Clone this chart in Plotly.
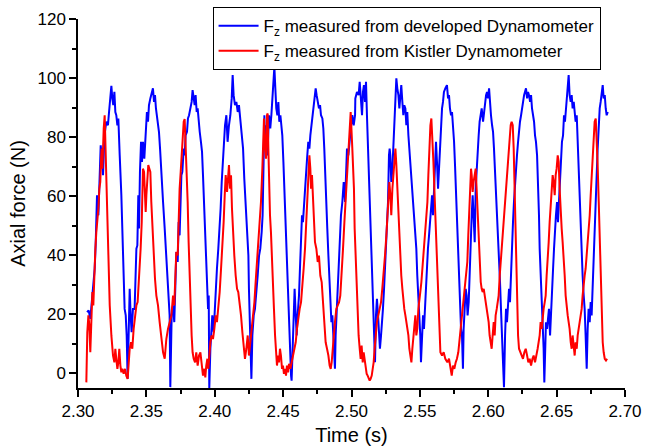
import plotly.graph_objects as go

blue_t = [
 2.3066, 2.3078, 2.3090, 2.3097, 2.3110, 2.3122, 2.3129, 2.3134, 2.3139, 2.3149,
 2.3158, 2.3166, 2.3173, 2.3183, 2.3190, 2.3197, 2.3207, 2.3219, 2.3227, 2.3236,
 2.3244, 2.3251, 2.3258, 2.3266, 2.3273, 2.3280, 2.3288, 2.3295, 2.3300, 2.3305,
 2.3317, 2.3329, 2.3336, 2.3341, 2.3349, 2.3356, 2.3363, 2.3370, 2.3378, 2.3385,
 2.3392, 2.3402, 2.3414, 2.3427, 2.3434, 2.3441, 2.3446, 2.3453, 2.3461, 2.3468,
 2.3475, 2.3485, 2.3495, 2.3504, 2.3512, 2.3519, 2.3529, 2.3539, 2.3548, 2.3556,
 2.3563, 2.3570, 2.3578, 2.3585, 2.3592, 2.3600, 2.3609, 2.3622, 2.3634, 2.3646,
 2.3658, 2.3670,
 2.3675, 2.3685, 2.3695, 2.3704, 2.3712, 2.3719, 2.3729, 2.3736, 2.3743, 2.3748,
 2.3756, 2.3763, 2.3773, 2.3780, 2.3787, 2.3797, 2.3804, 2.3812, 2.3821, 2.3831,
 2.3838, 2.3846, 2.3853, 2.3860, 2.3868, 2.3875, 2.3882, 2.3890, 2.3899, 2.3907,
 2.3914, 2.3921, 2.3929, 2.3936, 2.3943, 2.3951, 2.3956, 2.3960, 2.3968, 2.3975,
 2.3982, 2.3992, 2.3999, 2.4007, 2.4016, 2.4026, 2.4036, 2.4043, 2.4051, 2.4060,
 2.4068, 2.4075, 2.4085, 2.4094, 2.4104, 2.4114, 2.4124, 2.4131, 2.4138, 2.4148,
 2.4158, 2.4168, 2.4177, 2.4187, 2.4197, 2.4207, 2.4216, 2.4226, 2.4236, 2.4246,
 2.4250, 2.4255, 2.4263, 2.4268, 2.4275, 2.4285, 2.4294, 2.4304, 2.4314, 2.4324,
 2.4333, 2.4343,
 2.4350, 2.4358, 2.4363, 2.4367, 2.4375, 2.4382, 2.4389, 2.4397, 2.4406, 2.4414,
 2.4421, 2.4428, 2.4436, 2.4443, 2.4450, 2.4458, 2.4465, 2.4472, 2.4480, 2.4487,
 2.4494, 2.4502, 2.4509, 2.4516, 2.4523, 2.4531, 2.4538, 2.4545, 2.4553, 2.4558,
 2.4562, 2.4570, 2.4577, 2.4584, 2.4592, 2.4599, 2.4606, 2.4616, 2.4623, 2.4631,
 2.4638, 2.4645, 2.4653, 2.4660, 2.4667, 2.4675, 2.4684, 2.4692, 2.4699, 2.4709,
 2.4718, 2.4728, 2.4738, 2.4745, 2.4753, 2.4762, 2.4770, 2.4777, 2.4787, 2.4794,
 2.4801, 2.4809, 2.4816, 2.4823, 2.4831, 2.4838, 2.4845, 2.4853, 2.4860, 2.4867,
 2.4875, 2.4879, 2.4884, 2.4892, 2.4899, 2.4909, 2.4916, 2.4923, 2.4933, 2.4943,
 2.4953, 2.4960, 2.4967, 2.4977, 2.4987, 2.4997, 2.5006, 2.5016, 2.5026,
 2.5028, 2.5040, 2.5052, 2.5060, 2.5069, 2.5077, 2.5084, 2.5091, 2.5099, 2.5106,
 2.5113, 2.5121, 2.5128, 2.5135, 2.5143, 2.5150, 2.5157, 2.5165, 2.5172, 2.5179,
 2.5186, 2.5194, 2.5201, 2.5208, 2.5216, 2.5223, 2.5230, 2.5238, 2.5245, 2.5252,
 2.5260, 2.5267, 2.5274, 2.5279, 2.5284, 2.5291, 2.5299, 2.5306, 2.5313, 2.5321,
 2.5328, 2.5335, 2.5343, 2.5350, 2.5357, 2.5364, 2.5372, 2.5379, 2.5386, 2.5394,
 2.5401, 2.5408, 2.5416, 2.5423, 2.5430, 2.5438, 2.5445, 2.5452, 2.5460, 2.5467,
 2.5474, 2.5481, 2.5489, 2.5496, 2.5503, 2.5508, 2.5515, 2.5523, 2.5530, 2.5537,
 2.5545, 2.5552, 2.5559, 2.5567, 2.5574, 2.5581, 2.5589, 2.5596, 2.5603, 2.5611,
 2.5618, 2.5625, 2.5633, 2.5640, 2.5647, 2.5655, 2.5662, 2.5669, 2.5676, 2.5686,
 2.5698, 2.5706, 2.5713, 2.5720, 2.5728, 2.5735, 2.5742, 2.5750, 2.5757, 2.5764,
 2.5771, 2.5779, 2.5786, 2.5793, 2.5801, 2.5808, 2.5815, 2.5820, 2.5828, 2.5835,
 2.5842, 2.5849, 2.5857, 2.5864, 2.5871, 2.5879, 2.5886, 2.5893, 2.5901, 2.5908,
 2.5915, 2.5923, 2.5930, 2.5937, 2.5945, 2.5952, 2.5962, 2.5969, 2.5976, 2.5984,
 2.5991, 2.5998, 2.6006, 2.6013, 2.6020, 2.6028, 2.6035, 2.6042, 2.6049, 2.6057,
 2.6064, 2.6071, 2.6079, 2.6086, 2.6093, 2.6101, 2.6108, 2.6115, 2.6123, 2.6130,
 2.6137, 2.6144, 2.6152, 2.6159, 2.6166, 2.6174, 2.6181, 2.6188, 2.6196, 2.6203,
 2.6210, 2.6218, 2.6225, 2.6232, 2.6240, 2.6247, 2.6254, 2.6262, 2.6276, 2.6284,
 2.6291, 2.6298, 2.6306, 2.6313, 2.6320, 2.6328, 2.6335, 2.6342, 2.6349, 2.6357,
 2.6364, 2.6371,
 2.6376, 2.6386, 2.6391, 2.6398, 2.6405, 2.6410, 2.6415, 2.6422, 2.6430, 2.6437,
 2.6444, 2.6452, 2.6459, 2.6466, 2.6474, 2.6481, 2.6488, 2.6495, 2.6503, 2.6510,
 2.6517, 2.6525, 2.6532, 2.6539, 2.6547, 2.6554, 2.6561, 2.6569, 2.6576, 2.6583,
 2.6588, 2.6595, 2.6603, 2.6610, 2.6617, 2.6625, 2.6632, 2.6639, 2.6647, 2.6654,
 2.6661, 2.6668, 2.6676, 2.6683, 2.6690, 2.6698, 2.6705, 2.6712, 2.6720, 2.6727,
 2.6734, 2.6742, 2.6749, 2.6756, 2.6764, 2.6771, 2.6778, 2.6786, 2.6793, 2.6800,
 2.6808, 2.6815, 2.6822, 2.6830, 2.6837, 2.6844, 2.6852, 2.6859, 2.6866, 2.6874,
]

blue_f = [
 20.7, 21.3, 18.4, 21.8, 27.5, 35.4, 43.3, 53.5, 60.3, 53.5,
 67.1, 77.2, 73.8, 67.1, 76.1, 81.8, 85.2, 84.0, 88.5, 94.2,
 97.4, 93.1, 90.8, 95.3, 88.5, 87.4, 84.0, 86.3, 81.8, 73.8,
 60.3, 44.4, 33.1, 21.8, 19.6, 12.8, -1.9, 12.8, 28.6, 19.6,
 13.9, 21.8, 21.8, 42.2, 43.3, 60.3, 49.0, 68.2, 78.4, 71.6,
 78.4, 72.7, 82.9, 88.5, 85.2, 90.8, 93.1, 95.3, 96.5, 91.9,
 94.2, 89.7, 87.4, 84.0, 81.8, 76.1, 67.1, 58.0, 49.0, 39.9,
 28.6, 19.6,
 -4.7, 19.6, 23.0, 17.3, 29.7, 41.1, 37.7, 51.2, 46.7, 58.0,
 67.1, 68.2, 76.1, 73.8, 80.6, 81.8, 86.3, 87.4, 89.7, 91.9,
 95.9, 93.1, 90.8, 94.2, 88.5, 89.7, 85.2, 81.8, 78.4, 75.0,
 67.1, 58.0, 49.0, 39.9, 30.9, 21.8, 26.3, -5.3, 8.3, 12.8,
 19.6, 13.9, 21.8, 28.6, 35.4, 42.2, 49.0, 55.8, 64.8, 73.8,
 78.4, 84.0, 87.4, 78.4, 84.0, 87.4, 93.1, 101.0, 94.2, 90.8,
 91.9, 88.5, 90.8, 86.3, 82.9, 76.1, 65.9, 58.0, 47.8, 39.9,
 28.6, 19.6, 8.3, -1.9, 12.8, 19.6, 21.8, 26.3, 33.1, 39.9,
 42.2, 47.8,
 53.5, 73.8, 87.4, 76.1, 84.0, 73.8, 78.4, 87.4, 82.9, 87.4,
 93.1, 98.7, 103.8, 96.5, 89.7, 87.4, 91.9, 85.2, 87.4, 84.0,
 80.6, 71.6, 62.5, 51.2, 39.9, 30.9, 21.8, 12.8, 6.0, -0.8,
 -2.5, 8.3, 19.6, 28.6, 19.6, 12.8, 19.6, 26.3, 35.4, 44.4,
 53.5, 51.2, 58.0, 62.5, 68.2, 72.7, 78.4, 76.1, 80.6, 85.2,
 87.4, 91.9, 96.5, 94.2, 91.9, 89.7, 90.8, 87.4, 86.3, 82.9,
 76.1, 68.2, 58.0, 49.0, 39.9, 30.9, 21.8, 17.3, 19.6, 12.8,
 7.1, 1.5, 12.8, 21.8, 30.9, 39.9, 44.4, 53.5, 58.0, 64.8,
 58.0, 69.3, 76.1, 73.8, 80.6, 84.0, 87.4, 84.0, 87.4,
 93.1, 95.3, 94.2, 98.7, 91.9, 87.4, 95.3, 97.6, 91.9, 98.7,
 87.4, 76.1, 64.8, 53.5, 42.2, 30.9, 21.8, 12.8, 3.7, 19.6,
 25.2, 19.6, 12.8, 8.3, 12.8, 19.6, 21.8, 28.6, 35.4, 42.2,
 51.2, 58.0, 73.8, 76.1, 73.8, 64.8, 69.3, 78.4, 87.4, 94.2,
 99.9, 96.5, 94.2, 89.7, 95.3, 97.6, 91.9, 87.4, 90.8, 89.7,
 84.0, 88.5, 80.6, 76.1, 70.5, 64.8, 60.3, 55.8, 53.5, 49.0,
 42.2, 33.1, 26.3, 19.6, 12.8, 3.7, 10.5, 19.6, 15.0, 21.8,
 30.9, 35.4, 42.2, 46.7, 51.2, 58.0, 60.3, 53.5, 62.5, 71.6,
 78.4, 71.6, 62.5, 69.3, 76.1, 82.9, 89.7, 91.9, 95.3, 96.5,
 97.6, 93.1, 94.2, 89.7, 87.4, 88.5, 84.0, 78.4, 70.5, 61.4,
 51.2, 39.9, 30.9, 21.8, 15.0, 12.8, 1.5, 15.0, 21.8, 28.6,
 26.3, 19.6, 24.1, 35.4, 49.0, 53.5, 60.3, 53.5, 44.4, 62.5,
 69.3, 73.8, 80.6, 85.2, 88.5, 89.7, 85.2, 88.5, 91.9, 94.2,
 95.3, 93.1, 96.5, 90.8, 87.4, 84.0, 81.8, 76.1, 69.3, 58.0,
 53.5, 49.0, 39.9, 30.9, 21.8, 12.8, 3.7, -4.7, 12.8, 21.8,
 17.3, 23.0, 28.6, 24.1, 35.4, 42.2, 51.2, 58.0, 64.8, 69.3,
 73.8, 78.4, 82.9, 85.2, 87.4, 89.7, 91.9, 94.2, 96.5, 93.1,
 95.3, 94.2, 91.9, 94.2, 89.7, 87.4, 85.2, 80.6, 78.4, 73.8,
 64.8, 53.5,
 42.2, 30.9, 21.8, 15.0, 8.3, -3.1, 8.3, 17.3, 15.0, 19.6,
 21.8, 12.8, 21.8, 28.6, 35.4, 42.2, 49.0, 53.5, 58.0, 51.2,
 58.0, 67.1, 73.8, 78.4, 80.6, 87.4, 85.2, 89.7, 93.1, 96.5,
 101.0, 94.2, 91.9, 94.2, 89.7, 91.9, 87.4, 85.2, 87.4, 78.4,
 67.1, 58.0, 49.0, 39.9, 33.1, 26.3, 21.8, 12.8, 1.5, 15.0,
 21.8, 17.3, 24.1, 19.6, 28.6, 37.7, 46.7, 58.0, 67.1, 76.1,
 85.2, 89.7, 91.9, 95.3, 97.6, 93.1, 94.2, 89.7, 87.4, 88.5,
]

red_t = [
 2.3061, 2.3068, 2.3076, 2.3083, 2.3090, 2.3097, 2.3105, 2.3112, 2.3119, 2.3127,
 2.3134, 2.3141, 2.3149, 2.3156, 2.3163, 2.3168, 2.3173, 2.3178, 2.3183, 2.3188,
 2.3195, 2.3202, 2.3207, 2.3214, 2.3224, 2.3232, 2.3244, 2.3256, 2.3266, 2.3273,
 2.3280, 2.3288, 2.3295, 2.3302, 2.3310, 2.3317, 2.3324, 2.3334, 2.3344, 2.3353,
 2.3363, 2.3370, 2.3378, 2.3388, 2.3397, 2.3407, 2.3417, 2.3427, 2.3436, 2.3444,
 2.3451, 2.3458, 2.3466, 2.3470, 2.3475, 2.3483, 2.3490, 2.3495, 2.3500, 2.3507,
 2.3514, 2.3522, 2.3529, 2.3536, 2.3544, 2.3553, 2.3563, 2.3573, 2.3585, 2.3597,
 2.3609, 2.3622, 2.3634, 2.3646, 2.3658, 2.3670,
 2.3683, 2.3695, 2.3704, 2.3714, 2.3719, 2.3729, 2.3736, 2.3743, 2.3751, 2.3758,
 2.3765, 2.3773, 2.3780, 2.3787, 2.3795, 2.3802, 2.3809, 2.3817, 2.3824, 2.3831,
 2.3838, 2.3846, 2.3856, 2.3865, 2.3875, 2.3885, 2.3895, 2.3904, 2.3914, 2.3924,
 2.3931, 2.3938, 2.3946, 2.3953, 2.3960, 2.3968, 2.3977, 2.3987, 2.3997, 2.4007,
 2.4016, 2.4026, 2.4036, 2.4046, 2.4055, 2.4065, 2.4073, 2.4080, 2.4090, 2.4097,
 2.4104, 2.4112, 2.4119, 2.4126, 2.4133, 2.4143, 2.4153, 2.4163, 2.4172, 2.4182,
 2.4192, 2.4202, 2.4211, 2.4221, 2.4231, 2.4241, 2.4250, 2.4260, 2.4270, 2.4280,
 2.4290, 2.4299, 2.4309, 2.4319, 2.4328, 2.4338, 2.4348,
 2.4353, 2.4360, 2.4367, 2.4375, 2.4382, 2.4387, 2.4392, 2.4397, 2.4404, 2.4411,
 2.4419, 2.4426, 2.4433, 2.4441, 2.4448, 2.4455, 2.4463, 2.4470, 2.4477, 2.4484,
 2.4492, 2.4499, 2.4506, 2.4514, 2.4521, 2.4528, 2.4536, 2.4543, 2.4553, 2.4562,
 2.4572, 2.4582, 2.4592, 2.4601, 2.4611, 2.4621, 2.4631, 2.4640, 2.4650, 2.4660,
 2.4670, 2.4677, 2.4684, 2.4692, 2.4699, 2.4704, 2.4711, 2.4718, 2.4726, 2.4733,
 2.4743, 2.4753, 2.4762, 2.4772, 2.4782, 2.4792, 2.4801, 2.4811, 2.4821, 2.4831,
 2.4840, 2.4848, 2.4855, 2.4862, 2.4870, 2.4879, 2.4889, 2.4909, 2.4918, 2.4928,
 2.4938, 2.4948, 2.4957, 2.4967, 2.4977, 2.4987, 2.4994, 2.5006, 2.5018,
 2.5023, 2.5030, 2.5038, 2.5045, 2.5052, 2.5060, 2.5067, 2.5074, 2.5082, 2.5089,
 2.5096, 2.5104, 2.5111, 2.5118, 2.5126, 2.5133, 2.5140, 2.5148, 2.5155, 2.5162,
 2.5169, 2.5177, 2.5186, 2.5196, 2.5206, 2.5216, 2.5225, 2.5235, 2.5245, 2.5255,
 2.5262, 2.5269, 2.5277, 2.5284, 2.5291, 2.5299, 2.5306, 2.5313, 2.5321, 2.5328,
 2.5335, 2.5343, 2.5350, 2.5357, 2.5364, 2.5372, 2.5379, 2.5386, 2.5394, 2.5401,
 2.5408, 2.5416, 2.5423, 2.5430, 2.5438, 2.5445, 2.5452, 2.5460, 2.5467, 2.5474,
 2.5481, 2.5489, 2.5496, 2.5503, 2.5511, 2.5518, 2.5525, 2.5533, 2.5540, 2.5547,
 2.5555, 2.5562, 2.5569, 2.5577, 2.5584, 2.5591, 2.5599, 2.5606, 2.5613, 2.5621,
 2.5628, 2.5635, 2.5643, 2.5650, 2.5662, 2.5674, 2.5686,
 2.5701, 2.5713, 2.5725, 2.5733, 2.5742, 2.5752, 2.5762, 2.5771, 2.5781, 2.5791,
 2.5801, 2.5810, 2.5818, 2.5825, 2.5832, 2.5840, 2.5847, 2.5854, 2.5862, 2.5869,
 2.5874, 2.5879, 2.5886, 2.5893, 2.5901, 2.5908, 2.5915, 2.5923, 2.5930, 2.5937,
 2.5945, 2.5952, 2.5959, 2.5967, 2.5974, 2.5981, 2.5988, 2.5996, 2.6003, 2.6010,
 2.6018, 2.6025, 2.6032, 2.6040, 2.6047, 2.6054, 2.6062, 2.6069, 2.6076, 2.6084,
 2.6091, 2.6098, 2.6106, 2.6113, 2.6120, 2.6127, 2.6135, 2.6142, 2.6149, 2.6157,
 2.6164, 2.6171, 2.6179, 2.6186, 2.6191, 2.6196, 2.6201, 2.6205, 2.6210, 2.6218,
 2.6225, 2.6235, 2.6245, 2.6254, 2.6264, 2.6274, 2.6284, 2.6293, 2.6303, 2.6313,
 2.6323, 2.6332, 2.6342, 2.6352, 2.6361,
 2.6376, 2.6383, 2.6391, 2.6398, 2.6405, 2.6413, 2.6420, 2.6427, 2.6435, 2.6442,
 2.6449, 2.6457, 2.6464, 2.6471, 2.6478, 2.6486, 2.6493, 2.6500, 2.6508, 2.6515,
 2.6522, 2.6530, 2.6537, 2.6544, 2.6552, 2.6559, 2.6566, 2.6574, 2.6581, 2.6588,
 2.6595, 2.6603, 2.6610, 2.6617, 2.6625, 2.6632, 2.6639, 2.6647, 2.6654, 2.6661,
 2.6668, 2.6676, 2.6683, 2.6690, 2.6698, 2.6705, 2.6712, 2.6720, 2.6727, 2.6734,
 2.6742, 2.6749, 2.6756, 2.6764, 2.6771, 2.6778, 2.6786, 2.6793, 2.6800, 2.6808,
 2.6815, 2.6822, 2.6830, 2.6837, 2.6844, 2.6852, 2.6861, 2.6869,
]

red_f = [
 -3.1, 13.9, 19.6, 16.2, 7.1, 15.0, 27.5, 23.0, 35.4, 42.2,
 47.8, 51.2, 55.8, 62.5, 64.8, 71.6, 76.1, 69.3, 80.6, 82.9,
 87.4, 76.1, 64.8, 51.2, 36.5, 23.0, 12.8, 6.0, 3.7, 8.3,
 4.9, 1.5, 3.7, 8.3, 2.6, 0.3, 1.5, -0.2, 1.5, -0.8,
 -1.9, 3.7, 8.3, 10.5, 8.3, 15.0, 19.6, 23.0, 24.1, 29.7,
 36.5, 42.2, 51.2, 61.4, 69.3, 68.2, 62.5, 54.6, 60.3, 68.2,
 70.5, 69.3, 68.2, 58.0, 49.0, 39.9, 32.0, 26.3, 23.0, 17.3,
 12.8, 7.1, 4.9, 11.6, 15.0, 17.3,
 19.6, 26.3, 23.0, 35.4, 41.1, 39.9, 53.5, 62.5, 68.2, 75.0,
 80.6, 85.2, 86.1, 78.4, 69.3, 58.0, 44.4, 30.9, 21.8, 12.8,
 7.1, 4.9, 3.7, 7.1, 2.6, 6.0, 7.1, 3.7, -0.8, 1.5,
 -1.4, 2.6, 4.9, 1.5, 6.0, 10.5, 12.8, 11.6, 15.0, 19.6,
 17.3, 21.8, 27.5, 35.4, 42.2, 51.2, 60.3, 67.1, 61.4, 68.2,
 70.5, 62.5, 67.1, 55.8, 47.8, 39.9, 33.1, 28.6, 27.5, 24.1,
 19.6, 13.9, 8.3, 4.9, 8.3, 12.8, 6.0, 10.5, 15.0, 19.6,
 24.1, 30.9, 37.7, 42.2, 51.2, 58.0, 69.3,
 81.8, 86.3, 76.1, 72.7, 87.4, 88.0, 76.1, 62.5, 53.5, 47.8,
 39.9, 30.9, 21.8, 12.8, 4.9, 2.6, 6.0, 3.7, 8.3, 6.0,
 1.5, 2.6, -0.2, 1.5, -0.8, 2.6, 0.3, 3.2, 1.5, 3.7,
 6.0, 8.3, 10.5, 15.0, 19.6, 21.8, 24.1, 28.6, 35.4, 42.2,
 51.2, 58.0, 67.1, 73.8, 69.3, 62.5, 67.1, 58.0, 53.5, 44.4,
 42.2, 37.7, 39.9, 33.1, 30.9, 24.1, 17.3, 10.5, 8.3, 6.0,
 2.6, 1.5, 3.7, 8.3, 12.8, 17.3, 21.8, 24.1, 26.3, 33.1,
 42.2, 51.2, 58.0, 67.1, 73.8, 82.9, 88.5, 76.1, 62.5,
 49.0, 39.9, 30.9, 21.8, 12.8, 8.3, 4.9, 9.4, 3.7, 7.1,
 4.9, 1.5, -0.2, -0.8, -1.9, -2.5, -1.9, -0.8, 1.5, 3.7,
 8.3, 12.8, 17.3, 19.6, 21.8, 24.1, 28.6, 33.1, 39.9, 46.7,
 53.5, 60.3, 64.8, 60.3, 53.5, 62.5, 67.1, 71.6, 76.1, 70.5,
 62.5, 53.5, 44.4, 39.9, 33.1, 28.6, 24.1, 21.8, 19.6, 17.3,
 15.0, 12.8, 8.3, 6.0, 3.7, 8.3, 12.8, 17.3, 19.6, 12.8,
 15.0, 21.8, 24.1, 27.5, 30.9, 35.4, 42.2, 46.7, 49.0, 53.5,
 58.0, 67.1, 76.1, 84.0, 86.3, 80.6, 71.6, 62.5, 53.5, 44.4,
 35.4, 24.1, 10.5, 7.1, 6.0, 7.1, 4.9,
 3.7, 4.9, 1.5, -0.8, 2.6, 1.5, 3.7, 4.9, 7.1, 11.6,
 17.3, 21.8, 24.1, 28.6, 30.9, 33.1, 37.7, 46.7, 55.8, 64.8,
 69.3, 67.1, 61.4, 64.8, 68.2, 69.3, 62.5, 53.5, 42.2, 35.4,
 30.9, 28.6, 27.5, 28.6, 26.3, 24.1, 21.8, 19.6, 17.3, 12.8,
 10.5, 8.3, 12.8, 17.3, 12.8, 19.6, 21.8, 24.1, 26.3, 33.1,
 37.7, 42.2, 46.7, 51.2, 55.8, 60.3, 64.8, 70.5, 76.1, 80.6,
 84.0, 85.2, 84.0, 76.1, 64.8, 53.5, 42.2, 30.9, 21.8, 12.8,
 8.3, 7.1, 6.0, 4.9, 7.1, 8.3, 6.0, 3.7, 4.9, 2.6,
 4.9, 6.0, 3.7, 6.0, 8.3,
 12.8, 17.3, 15.0, 19.6, 21.8, 24.1, 26.3, 33.1, 37.7, 44.4,
 51.2, 58.0, 62.5, 67.1, 64.8, 60.3, 67.1, 69.3, 73.8, 71.6,
 62.5, 53.5, 49.0, 44.4, 39.9, 33.1, 26.3, 21.8, 19.6, 17.3,
 15.0, 10.5, 8.3, 12.8, 8.3, 6.0, 10.5, 8.3, 12.8, 15.0,
 17.3, 19.6, 21.8, 26.3, 30.9, 33.1, 35.4, 39.9, 42.2, 46.7,
 53.5, 60.3, 67.1, 73.8, 80.6, 85.2, 86.3, 80.6, 70.5, 58.0,
 44.4, 30.9, 19.6, 10.5, 7.1, 4.9, 4.3, 4.9,
]

series_names = ["F<sub>z</sub> measured from developed Dynamometer",
                "F<sub>z</sub> measured from Kistler Dynamometer"]
x_title = "Time (s)"
y_title = "Axial force (N)"

FONT = "Liberation Sans, Arial, sans-serif"

fig = go.Figure()
fig.add_trace(go.Scatter(x=blue_t, y=blue_f, mode="lines", name=series_names[0],
                         line=dict(color="#0000FF", width=2)))
fig.add_trace(go.Scatter(x=red_t, y=red_f, mode="lines", name=series_names[1],
                         line=dict(color="#FF0000", width=2)))

axis_common = dict(showline=True, linecolor="black", linewidth=1.5, mirror=False,
                   ticks="outside", ticklen=7, tickwidth=1.5, tickcolor="black",
                   showgrid=False, zeroline=False, automargin=False,
                   tickfont=dict(family=FONT, size=17, color="black"))

fig.update_xaxes(range=[2.30, 2.70], tick0=2.30, dtick=0.05, tickformat=".2f",
                 minor=dict(ticks="outside", ticklen=4, tickwidth=1.5, tickcolor="black", dtick=0.025),
                 title=dict(text=x_title, font=dict(family=FONT, size=20, color="black"), standoff=12),
                 **axis_common)
fig.update_yaxes(range=[-5, 120], tick0=0, dtick=20,
                 minor=dict(ticks="outside", ticklen=4, tickwidth=1.5, tickcolor="black", dtick=10),
                 title=dict(text=y_title, font=dict(family=FONT, size=20, color="black"), standoff=6),
                 **axis_common)

fig.update_layout(
    width=646, height=446,
    margin=dict(l=78, r=21, t=19, b=58, autoexpand=False),
    plot_bgcolor="white", paper_bgcolor="white",
    font=dict(family=FONT, size=17, color="black"),
    showlegend=True,
    legend=dict(x=0.246, y=1.032, xanchor="left", yanchor="top",
                bgcolor="white", bordercolor="black", borderwidth=1,
                itemwidth=40,
                font=dict(family=FONT, size=17, color="black"),
                tracegroupgap=0),
)

fig.write_html("out.html")
